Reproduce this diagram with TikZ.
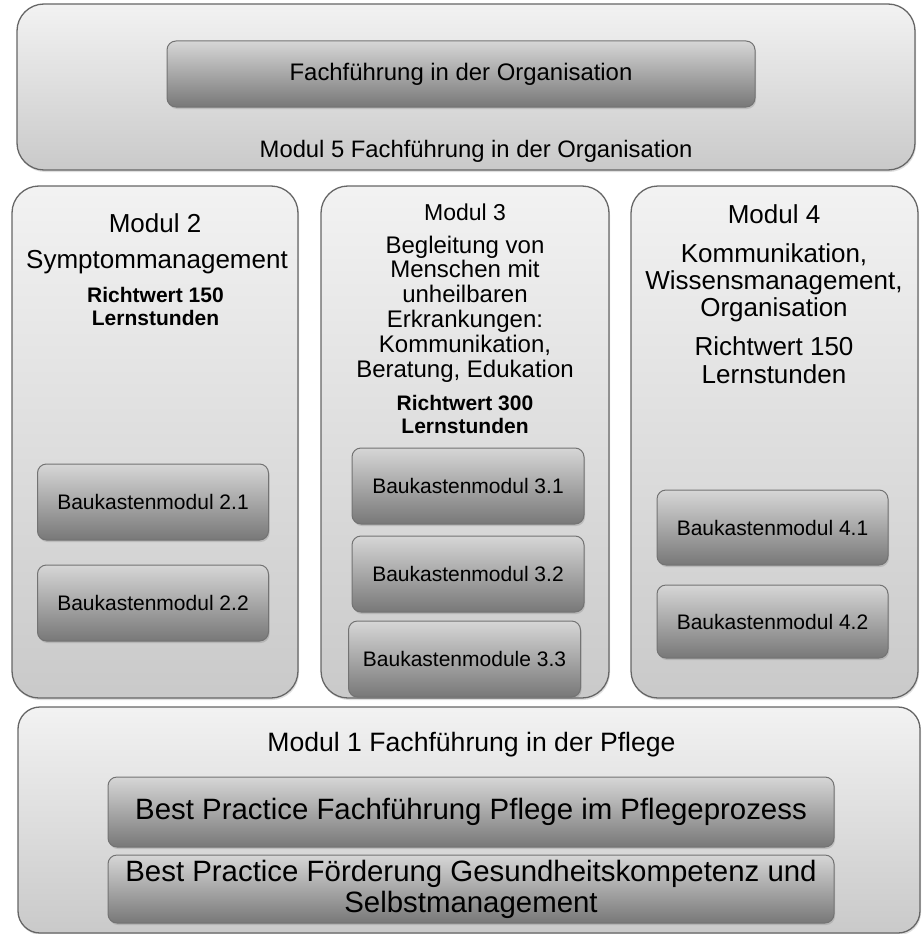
\documentclass[tikz,border=0pt]{standalone}
\usepackage{fontspec}
\setmainfont{Liberation Sans}
\usetikzlibrary{positioning}
\usetikzlibrary{shadows}
\tikzset{modul box/.style={rectangle,rounded corners=27pt,draw=black!60,line width=1.3pt,top color=black!5,bottom color=black!21,drop shadow={opacity=0.25,shadow xshift=1pt,shadow yshift=-2pt}},
bau box/.style={rectangle,rounded corners=9pt,draw=black!55,line width=1pt,top color=black!16,bottom color=black!53,drop shadow={opacity=0.3,shadow xshift=1pt,shadow yshift=-2pt},inner sep=0pt,minimum height=76pt,font=\fontsize{21}{22}\selectfont},
big text/.style={font=\fontsize{26}{27}\selectfont,align=center},
mid text/.style={font=\fontsize{24}{24.8}\selectfont,align=center},
bold text/.style={font=\bfseries\fontsize{21}{22.5}\selectfont,align=center},}

\begin{document}
\begin{tikzpicture}[x=1pt,y=-1pt]
	\useasboundingbox (0,0) rectangle (921,934);
	% Modul 5
	\node[modul box, minimum width=898pt, minimum height=166pt] (m5) at (466,87) {};
	\node[bau box, minimum width=588pt, minimum height=66pt, font=\fontsize{23.9}{24}\selectfont] (m5in) at (461,74) {Fachführung in der Organisation};
	\node[anchor=base, font=\fontsize{23.8}{24}\selectfont] (m5lab) at (476,157) {Modul 5 Fachführung in der Organisation};

	% Modul 2, 3, 4
	\node[modul box, minimum width=286pt, minimum height=512pt] (m2) at (155,442) {};
	\node[modul box, minimum width=288pt, minimum height=512pt] (m3) at (465,442) {};
	\node[modul box, minimum width=287pt, minimum height=512pt] (m4) at (774.5,442) {};

	% anchor=base is the last line
	\node[anchor=base, big text] (m2t) at (155,232) {Modul 2};
	\node[anchor=base, big text] (m2s) at (157,268) {Symptommanagement};
	\node[anchor=base, bold text] (m2r) at (155.5,325) {Richtwert 150\\Lernstunden};

	\node[anchor=base, font=\fontsize{23}{24}\selectfont] (m3t) at (465,220) {Modul 3};
	\node[anchor=base, mid text] (m3s) at (465,377) {Begleitung von\\Menschen mit\\unheilbaren\\Erkrankungen:\\Kommunikation,\\Beratung, Edukation};
	\node[anchor=base, bold text] (m3r) at (465,433) {Richtwert 300\\Lernstunden};

	\node[anchor=base, big text] (m4t) at (774,223) {Modul 4};
	\node[anchor=base, big text] (m4s) at (774,316) {Kommunikation,\\Wissensmanagement,\\Organisation};
	\node[anchor=base, big text, font=\fontsize{26}{28}\selectfont] (m4r) at (774,383) {Richtwert 150\\Lernstunden};

	\node[bau box, minimum width=231pt] (b21) at (153,502) {Baukastenmodul 2.1};
	\node[bau box, minimum width=231pt, below=24pt of b21] (b22) {Baukastenmodul 2.2};
	\node[bau box, minimum width=232pt] (b31) at (468,486) {Baukastenmodul 3.1};
	\node[bau box, minimum width=232pt, below=11pt of b31] (b32) {Baukastenmodul 3.2};
	\node[bau box, minimum width=232pt] (b33) at (464.5,659) {Baukastenmodule 3.3};
	\node[bau box, minimum width=231pt, minimum height=75pt] (b41) at (772.5,527.5) {Baukastenmodul 4.1};
	\node[bau box, minimum width=231pt, minimum height=73pt, below=19pt of b41] (b42) {Baukastenmodul 4.2};

	% Modul 1
	\node[modul box, rounded corners=22pt, minimum width=902pt, minimum height=226pt] (m1) at (469,820) {};
	\node[anchor=base, font=\fontsize{26.6}{27}\selectfont] (m1lab) at (471.5,751) {Modul 1 Fachführung in der Pflege};
	\node[bau box, minimum width=726pt, minimum height=70pt, font=\fontsize{29.4}{31}\selectfont] (bp1) at (471,812) {Best Practice Fachführung Pflege im Pflegeprozess};
	\node[bau box, minimum width=726pt, minimum height=68pt, align=center, font=\fontsize{29.4}{31}\selectfont] (bp2) at (471,889) {Best Practice Förderung Gesundheitskompetenz und\\Selbstmanagement};
\end{tikzpicture}
\end{document}
